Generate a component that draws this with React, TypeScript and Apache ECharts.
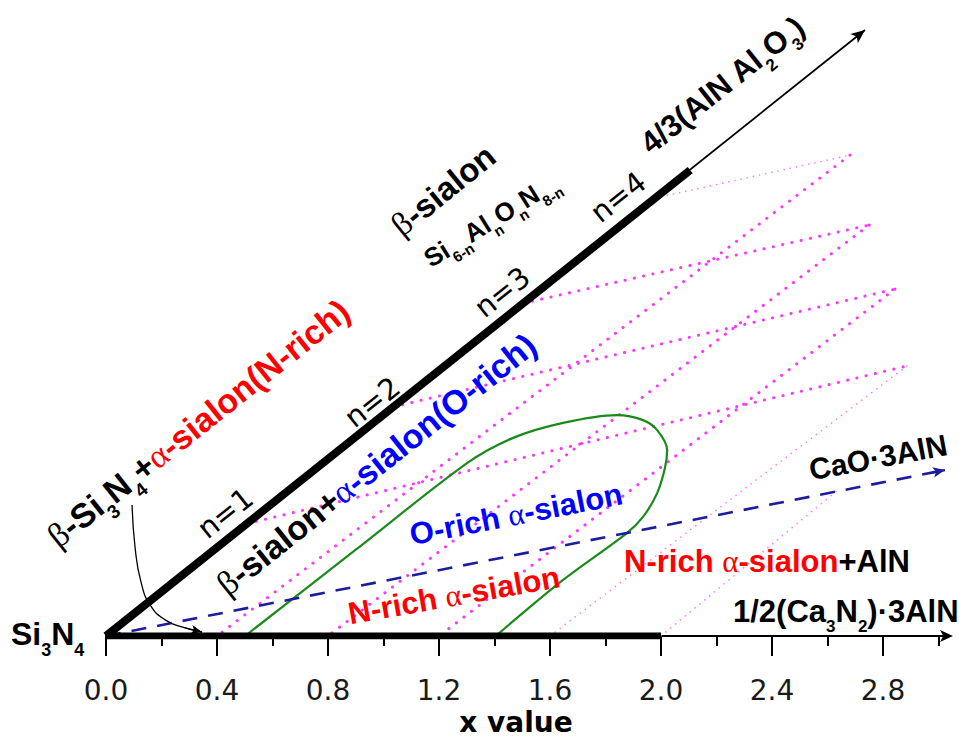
import React, { useEffect, useRef } from 'react';
import * as echarts from 'echarts';

// ---------- data (x value, vertical composition coordinate in the same units) ----------
const xMajorTicks = [0, 0.4, 0.8, 1.2, 1.6, 2.0, 2.4, 2.8];
const xMinorTicks = [0.2, 0.6, 1.0, 1.4, 1.8, 2.2, 2.6, 3.0];

const betaSialonThick = [[0, 0], [2.105, 1.679]];
const betaSialonArrowTip = [2.735, 2.184];
const nitrideAxisThick = [[0, 0], [2.0, 0]];
const caoAlnLine = [[0, 0], [3.023, 0.598]];

// n = 1..4 points on the beta-sialon line
const nPoints = [[0.508, 0.405], [1.035, 0.826], [1.503, 1.199], [1.978, 1.578]];
// right-hand vertices of the zig-zag tie lines (for n = 1..4)
const rightPoints = [[2.886, 0.973], [2.843, 1.25], [2.75, 1.481], [2.681, 1.733]];
// where the lines from the right vertices meet the x axis (for n = 1..4)
const axisFeet = [1.6, 1.2, 0.8, 0.4];
const extraTieLine = [[2.0, 0], [2.645, 0.533]];

const greenBoundary = [
  [0.501, 0], [0.9, 0.311], [1.301, 0.623], [1.467, 0.714], [1.647, 0.768],
  [1.841, 0.796], [1.935, 0.778], [1.986, 0.742], [2.022, 0.67], [2.014, 0.605],
  [1.986, 0.515], [1.935, 0.429], [1.877, 0.371], [1.647, 0.202], [1.409, 0.004],
];

const curvedArrow = [
  [0.094, 0.472], [0.105, 0.317], [0.126, 0.195], [0.159, 0.112],
  [0.213, 0.058], [0.285, 0.029], [0.346, 0.014],
];

// ---------- styles ----------
const SANS = '"Liberation Sans", Arial, Helvetica, sans-serif';
const GREEK = '"Liberation Serif", "DejaVu Serif", serif';
const WIDE = '"DejaVu Sans", Verdana, sans-serif';

const heavyDots = { color: '#ff33ff', width: 3, type: [0.1, 9.4], cap: 'round' };
const lightDots = { color: '#ff77ff', width: 1.6, type: [0.1, 6.2], cap: 'round' };

function makeRich(F: number, S: number) {
  const P = Math.round(0.85 * F - 0.134 * S - 2);
  const base = { fontSize: F, fontWeight: 'bold', fontFamily: SANS, verticalAlign: 'top' };
  const greek = { fontSize: F, fontWeight: 'normal', fontFamily: GREEK, verticalAlign: 'top' };
  return {
    P,
    rich: {
      k: { ...base, fill: '#000000' },
      r: { ...base, fill: '#ff0000' },
      b: { ...base, fill: '#0000ff' },
      gk: { ...greek, fill: '#000000' },
      gr: { ...greek, fill: '#ff0000' },
      gb: { ...greek, fill: '#0000ff' },
      s: { fontSize: S, fontWeight: 'bold', fontFamily: SANS, verticalAlign: 'top', padding: [P, 0, 0, 0], fill: '#000000' },
      n: { fontSize: F, fontWeight: 'normal', fontFamily: WIDE, verticalAlign: 'top', fill: '#000000' },
    },
  };
}

type Ann = { text: string; cx: number; cy: number; rot: number; F: number; S?: number; align?: string };

const annotations: Ann[] = [
  { text: '{k|Si}{s|3}{k|N}{s|4}', cx: 11, cy: 633.5, rot: 0, F: 32, S: 18, align: 'left' },
  { text: '{gk|β}{k|-Si}{s|3}{k|N}{s|4}{k|+}{gr|α}{r|-sialon(N-rich)}', cx: 198, cy: 423, rot: 38.5, F: 34, S: 19 },
  { text: '{n|n=1}', cx: 225, cy: 513, rot: 38.5, F: 29 },
  { text: '{n|n=2}', cx: 372, cy: 402, rot: 38.5, F: 29 },
  { text: '{n|n=3}', cx: 502, cy: 292, rot: 38.5, F: 29 },
  { text: '{n|n=4}', cx: 618, cy: 197, rot: 38.5, F: 29 },
  { text: '{gk|β}{k|-sialon}', cx: 443, cy: 190, rot: 39, F: 33 },
  { text: '{k|Si}{s|6-n}{k|Al}{s|n}{k|O}{s|n}{k|N}{s|8-n}', cx: 491, cy: 220, rot: 32, F: 26, S: 15 },
  { text: '{k|4/3(AlN Al}{s|2}{k|O}{s|3}{k|)}', cx: 722, cy: 85, rot: 38.5, F: 31, S: 17 },
  { text: '{gk|β}{k|-sialon+}{gb|α}{b|-sialon(O-rich)}', cx: 376, cy: 464, rot: 38.5, F: 34 },
  { text: '{b|O-rich }{gb|α}{b|-sialon}', cx: 516, cy: 514, rot: 11, F: 31 },
  { text: '{r|N-rich }{gr|α}{r|-sialon}', cx: 454, cy: 595, rot: 10, F: 31 },
  { text: '{r|N-rich }{gr|α}{r|-sialon}{k|+AlN}', cx: 767, cy: 561, rot: 0, F: 31 },
  { text: '{k|1/2(Ca}{s|3}{k|N}{s|2}{k|)·3AlN}', cx: 733, cy: 611, rot: 0, F: 31, S: 17, align: 'left' },
  { text: '{k|CaO·3AlN}', cx: 878, cy: 457, rot: 10.5, F: 30 },
];

function buildGraphic() {
  return annotations.map((a) => {
    const S = a.S ?? Math.round(a.F * 0.55);
    const { P, rich } = makeRich(a.F, S);
    const hasSub = a.text.indexOf('{s|') >= 0;
    const H = hasSub ? Math.max(a.F, S + P) : a.F;
    const d = H / 2 - 0.49 * a.F;
    const th = (a.rot * Math.PI) / 180;
    const align = a.align ?? 'center';
    return {
      type: 'text',
      x: a.cx + d * Math.sin(th),
      y: a.cy + d * Math.cos(th),
      rotation: th,
      silent: true,
      z: 100,
      style: {
        text: a.text,
        rich,
        fontSize: a.F,
        fontFamily: SANS,
        fontWeight: 'bold',
        fill: '#000',
        align,
        verticalAlign: 'middle',
        textAlign: align,
        textVerticalAlign: 'middle',
      },
    };
  });
}

function seg(data: number[][], lineStyle: any, z = 2) {
  return { type: 'line', data, symbol: 'none', silent: true, z, lineStyle, animation: false };
}

function caoLineEnd() {
  const e = caoAlnLine[1];
  return [[e[0] * 0.985, e[1] * 0.985], e];
}

function buildSeries() {
  const series: any[] = [];
  nPoints.forEach((p, i) => {
    series.push(seg([p, rightPoints[i]], i === 3 ? lightDots : heavyDots));
    series.push(seg([rightPoints[i], [axisFeet[i], 0]], i === 0 ? lightDots : heavyDots));
  });
  series.push(seg(extraTieLine, lightDots));

  series.push({
    type: 'line', data: greenBoundary, smooth: 0.3, symbol: 'none', silent: true, z: 3,
    lineStyle: { color: '#1a8a1a', width: 2.2 },
  });

  // dashed CaO·3AlN direction with arrow
  const cEnd = caoLineEnd();
  series.push({
    type: 'line', data: caoAlnLine, symbol: 'none', silent: true, z: 4,
    lineStyle: { color: '#1c1c9e', width: 2.6, type: [15, 11] },
    markLine: {
      silent: true, symbol: ['none', 'arrow'], symbolSize: [8, 12], label: { show: false },
      lineStyle: { color: '#1c1c9e', width: 2.2, type: 'solid' },
      data: [[{ coord: cEnd[0] }, { coord: cEnd[1] }]],
    },
  });

  // beta-sialon line: thin line with arrow + thick part
  series.push({
    type: 'line', data: betaSialonThick, symbol: 'none', silent: true, z: 6,
    lineStyle: { color: '#000', width: 8 },
    markLine: {
      silent: true, symbol: ['none', 'arrow'], symbolSize: [9, 14], label: { show: false },
      lineStyle: { color: '#000', width: 1.8, type: 'solid' },
      data: [[{ coord: [0, 0] }, { coord: betaSialonArrowTip }]],
    },
  });

  // thick part of the nitride axis
  series.push({
    type: 'line', data: nitrideAxisThick, symbol: 'none', silent: true, z: 6,
    lineStyle: { color: '#000', width: 7 },
  });

  // curved pointer arrow
  const n = curvedArrow.length;
  series.push({
    type: 'line', data: curvedArrow, smooth: 0.5, symbol: 'none', silent: true, z: 7,
    lineStyle: { color: '#000', width: 1.3 },
    markLine: {
      silent: true, symbol: ['none', 'arrow'], symbolSize: [7, 11], label: { show: false },
      lineStyle: { color: '#000', width: 1.3, type: 'solid' },
      data: [[{ coord: curvedArrow[n - 2] }, { coord: curvedArrow[n - 1] }]],
    },
  });
  return series;
}

export default function App() {
  const ref = useRef<HTMLDivElement>(null);
  useEffect(() => {
    const chart = echarts.init(ref.current as HTMLDivElement, null, { renderer: 'svg' });
    const axisCommon = { type: 'value', min: 0, max: 3.034, position: 'bottom', splitLine: { show: false } };
    chart.setOption({
      animation: false,
      backgroundColor: '#ffffff',
      grid: { left: 106, right: 15, top: 25.5, bottom: 102, containLabel: false, outerBoundsMode: 'none' },
      xAxis: [
        {
          ...axisCommon,
          axisLine: {
            show: true, onZero: false, symbol: ['none', 'arrow'], symbolSize: [9, 13], symbolOffset: [0, 5],
            lineStyle: { color: '#000', width: 1.8 },
          },
          axisTick: { show: true, length: 20, customValues: xMajorTicks, lineStyle: { color: '#000', width: 2 } },
          axisLabel: {
            show: true, customValues: xMajorTicks, margin: 40,
            formatter: (v: number) => v.toFixed(1),
            fontSize: 28, fontFamily: WIDE, color: '#1a1a1a',
          },
          minorTick: { show: false },
          name: 'x value',
          nameLocation: 'middle',
          nameGap: 63,
          nameTextStyle: { fontSize: 28, fontWeight: 'bold', fontFamily: WIDE, color: '#000', padding: [0, 22, 0, 0] },
        },
        {
          ...axisCommon,
          axisLine: { show: false, onZero: false },
          axisTick: { show: true, length: 10, customValues: xMinorTicks, lineStyle: { color: '#000', width: 2 } },
          axisLabel: { show: false },
        },
      ],
      yAxis: { type: 'value', min: 0, max: 2.2, show: false },
      series: buildSeries(),
      graphic: buildGraphic(),
    });
    return () => chart.dispose();
  }, []);
  return <div ref={ref} style={{ position: 'absolute', left: 0, top: 0, width: 963, height: 738 }} />;
}
